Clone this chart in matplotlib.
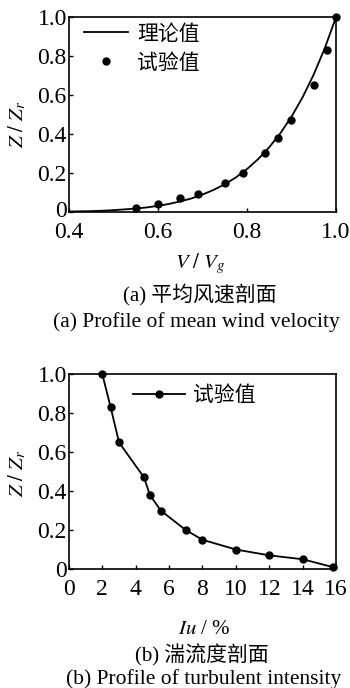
import matplotlib
matplotlib.use('Agg')
import matplotlib.pyplot as plt
import matplotlib.transforms as mtransforms

plt.rcParams['font.family'] = ['Liberation Serif', 'Noto Sans CJK SC']
plt.rcParams['mathtext.fontset'] = 'stix'

# (a) mean wind velocity profile
theory_v = [0.400, 0.425, 0.450, 0.475, 0.500, 0.525, 0.550, 0.575, 0.600,
            0.625, 0.650, 0.675, 0.700, 0.725, 0.750, 0.775, 0.800, 0.825,
            0.850, 0.875, 0.900, 0.925, 0.950, 0.975, 1.000]
theory_z = [0.002, 0.003, 0.004, 0.006, 0.009, 0.013, 0.017, 0.023, 0.031,
            0.041, 0.054, 0.069, 0.089, 0.113, 0.142, 0.177, 0.220, 0.271,
            0.332, 0.404, 0.489, 0.589, 0.706, 0.842, 1.000]
test_v = [0.55, 0.60, 0.65, 0.69, 0.75, 0.79, 0.84, 0.87, 0.90, 0.95, 0.98, 1.00]
test_z = [0.02, 0.04, 0.07, 0.09, 0.15, 0.20, 0.30, 0.38, 0.47, 0.65, 0.83, 1.00]

# (b) turbulent intensity profile
iu = [2.0, 2.5, 3.0, 4.5, 4.85, 5.5, 7.0, 8.0, 10.0, 12.0, 14.0, 15.8]
iu_z = [1.00, 0.83, 0.65, 0.47, 0.38, 0.30, 0.20, 0.15, 0.10, 0.07, 0.05, 0.01]

fig = plt.figure(figsize=(3.5, 6.88), dpi=100)
ax1 = fig.add_axes([0.197, 0.692, 0.763, 0.283])
ax2 = fig.add_axes([0.197, 0.173, 0.763, 0.283])

ax1.plot(theory_v, theory_z, color='black', lw=1.3, label='理论值')
ax1.plot(test_v, test_z, 'o', color='black', ms=5, label='试验值', clip_on=False)
ax1.set_xlim(0.4, 1.0)
ax1.set_ylim(0, 1.0)
ax1.set_xticks([0.4, 0.6, 0.8, 1.0])
ax1.set_xticklabels(['0.4', '0.6', '0.8', '1.0'])
ax1.set_yticks([0, 0.2, 0.4, 0.6, 0.8, 1.0])
ax1.set_yticklabels(['0', '0.2', '0.4', '0.6', '0.8', '1.0'])
ax1.set_xlabel(r'$V\ /\ V_g$', fontsize=15)
ax1.set_ylabel(r'$Z\ /\ Z_r$', fontsize=15)
ax1.xaxis.set_label_coords(0.49, -0.2)
ax1.yaxis.set_label_coords(-0.152, 0.45)
ax1.legend(loc='center left', bbox_to_anchor=(0.056, 0.835), frameon=False,
           fontsize=15, handlelength=2.1, handletextpad=0.45, borderpad=0,
           borderaxespad=0, labelspacing=0.45)

ax2.plot(iu, iu_z, '-o', color='black', lw=1.3, ms=5, label='试验值', clip_on=False)
ax2.set_xlim(0, 16)
ax2.set_ylim(0, 1.0)
ax2.set_xticks(range(0, 17, 2))
ax2.set_yticks([0, 0.2, 0.4, 0.6, 0.8, 1.0])
ax2.set_yticklabels(['0', '0.2', '0.4', '0.6', '0.8', '1.0'])
ax2.set_xlabel(r'$Iu$ / %', fontsize=15)
ax2.set_ylabel(r'$Z\ /\ Z_r$', fontsize=15)
ax2.xaxis.set_label_coords(0.505, -0.26)
ax2.yaxis.set_label_coords(-0.152, 0.49)
ax2.legend(loc='center left', bbox_to_anchor=(0.24, 0.887), frameon=False,
           fontsize=15, handlelength=2.5, handletextpad=0.4, borderpad=0,
           borderaxespad=0)

for ax in (ax1, ax2):
    ax.tick_params(direction='in', length=3, width=1, labelsize=17, pad=1.5)
    ax.tick_params(axis='x', pad=7)
    for s in ax.spines.values():
        s.set_linewidth(1.2)

# lift the "0" on the y axis of (a) a little so it clears "0.4"
lift = mtransforms.ScaledTranslation(0, 2 / 72, fig.dpi_scale_trans)
zero_lbl = ax1.yaxis.get_majorticklabels()[0]
zero_lbl.set_transform(zero_lbl.get_transform() + lift)

fig.text(0.572, 1 - 295 / 688, '(a) 平均风速剖面', ha='center', va='center', fontsize=15)
fig.text(0.562, 1 - 322 / 688, '(a) Profile of mean wind velocity', ha='center', va='center', fontsize=15.5)
fig.text(0.577, 1 - 655 / 688, '(b) 湍流度剖面', ha='center', va='center', fontsize=15)
fig.text(0.583, 1 - 679 / 688, '(b) Profile of turbulent intensity', ha='center', va='center', fontsize=15.5)

fig.savefig('out.png', dpi=100)
